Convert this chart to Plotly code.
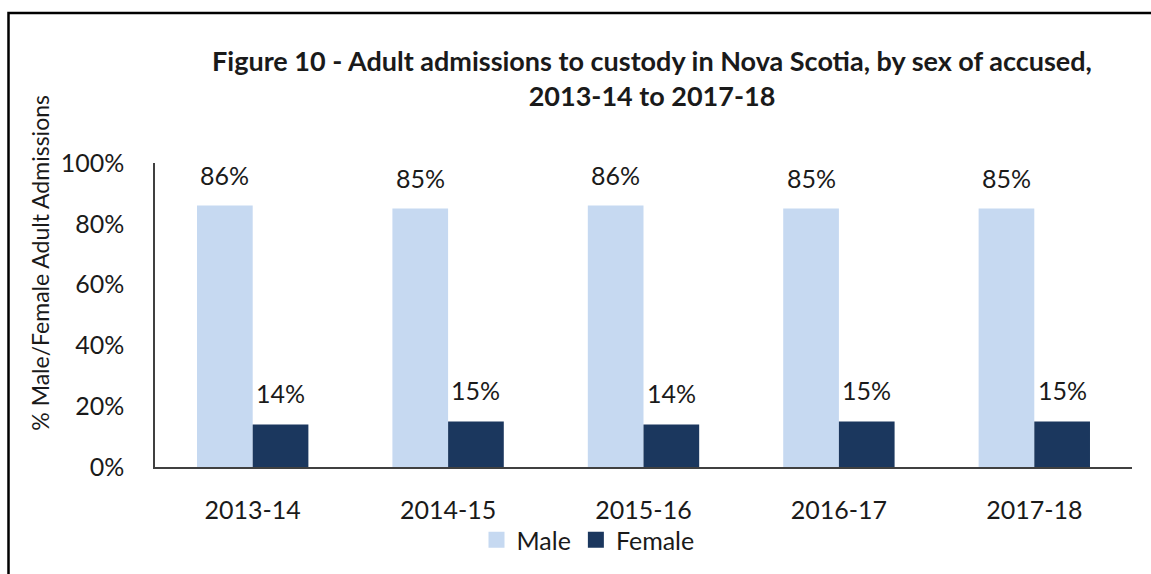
import plotly.graph_objects as go

# Adult admissions to custody in Nova Scotia, share by sex of accused
years = ["2013-14", "2014-15", "2015-16", "2016-17", "2017-18"]
male_pct = [86, 85, 86, 85, 85]
female_pct = [14, 15, 14, 15, 15]

MALE_COLOR = "#C6D9F1"
FEMALE_COLOR = "#1B375E"
FONT = "Lato"
TEXT_COLOR = "#1a1a1a"

W, H = 1151, 574
L, R, T, B = 155, 19, 163, 106
plot_w = W - L - R
plot_h = H - T - B
BARGAP = 0.43
bar_px = plot_w / len(years) * (1 - BARGAP) / 2


def px_x(px):
    return (px - L) / plot_w


def px_y(py):
    return (H - B - py) / plot_h


fig = go.Figure()
series = (("Male", male_pct, MALE_COLOR), ("Female", female_pct, FEMALE_COLOR))
for name, vals, color in series:
    fig.add_trace(go.Bar(
        name=name, x=years, y=[v / 100 for v in vals],
        marker=dict(color=color, line=dict(width=0)),
        showlegend=False,
    ))

# Legend entries with larger square swatches
for name, vals, color in series:
    fig.add_trace(go.Scatter(
        name=name, x=[None], y=[None], mode="markers",
        marker=dict(symbol="square", size=16, color=color),
        showlegend=True,
    ))

# Value labels above each bar
for vals, side in ((male_pct, -1), (female_pct, 1)):
    for yr, v in zip(years, vals):
        fig.add_annotation(
            x=yr, y=v / 100, text=f"{v}%", showarrow=False,
            xanchor="center", yanchor="bottom",
            xshift=side * bar_px / 2, yshift=14,
            font=dict(family=FONT, size=25, color=TEXT_COLOR),
        )

fig.update_layout(
    width=W, height=H,
    margin=dict(l=L, r=R, t=T, b=B),
    paper_bgcolor="white", plot_bgcolor="white",
    barmode="group", bargap=BARGAP, bargroupgap=0,
    font=dict(family=FONT, size=25, color=TEXT_COLOR),
    title=dict(
        text="<b>Figure 10 - Adult admissions to custody in Nova Scotia, by sex of accused,<br>2013-14 to 2017-18</b>",
        x=652 / W, xanchor="center", xref="container",
        y=1 - 71 / H, yanchor="middle", yref="container",
        font=dict(family=FONT, size=27, color=TEXT_COLOR),
    ),
    showlegend=True,
    legend=dict(
        orientation="h", x=px_x(588), y=px_y(540),
        xanchor="center", yanchor="middle",
        bgcolor="rgba(0,0,0,0)",
        font=dict(family=FONT, size=25, color=TEXT_COLOR),
        traceorder="normal", itemwidth=30, itemsizing="trace",
    ),
)

fig.update_xaxes(
    showline=True, linecolor="#404040", linewidth=2,
    showgrid=False, ticks="", ticklabelstandoff=20,
    tickfont=dict(family=FONT, size=25, color=TEXT_COLOR),
)
fig.update_yaxes(
    range=[0, 1], dtick=0.2, tickformat=".0%",
    showline=True, linecolor="#404040", linewidth=1.5,
    showgrid=False, zeroline=False, ticks="", ticklabelstandoff=24,
    tickfont=dict(family=FONT, size=25, color=TEXT_COLOR),
)

# Rotated y-axis title
fig.add_annotation(
    text="% Male/Female Adult Admissions", textangle=-90,
    xref="paper", yref="paper", x=px_x(40), y=px_y(263),
    xanchor="center", yanchor="middle", showarrow=False,
    font=dict(family=FONT, size=23, color=TEXT_COLOR),
)

# Outer frame around the chart
fig.add_shape(
    type="rect", xref="paper", yref="paper",
    x0=px_x(8.5), x1=px_x(1200), y0=px_y(620), y1=px_y(12.5),
    line=dict(color="black", width=2.5), fillcolor="rgba(0,0,0,0)",
    layer="above",
)

fig.write_html("out.html")
